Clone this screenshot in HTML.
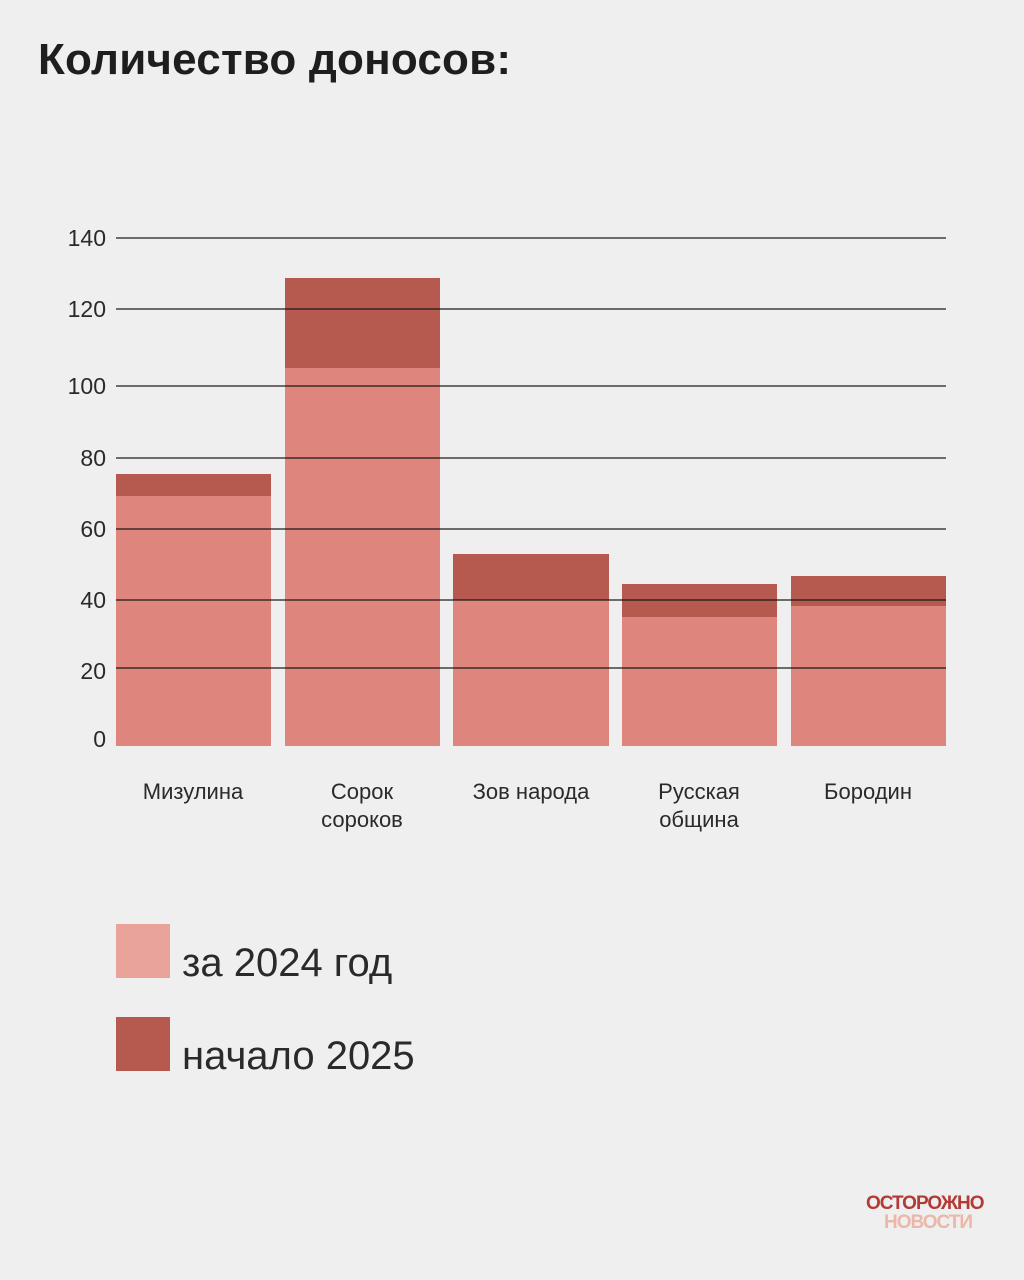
<!DOCTYPE html>
<html><head><meta charset="utf-8"><style>
body{margin:0;width:1024px;height:1280px;background:#efefef;position:relative;overflow:hidden;font-family:"Liberation Sans","DejaVu Sans",sans-serif;color:#2a2a2a}
.t{position:absolute;left:38px;top:35px;font-size:44px;font-weight:bold;color:#1e1e1e;letter-spacing:0.2px}
.b{position:absolute}
.l{background:#de867d}.d{background:#b65a50}
.g{position:absolute;left:116px;width:830px;height:2px;background:rgba(20,20,20,0.6)}
.y{position:absolute;right:918px;font-size:23px;line-height:22px;color:#2a2a2a}
.x{position:absolute;width:170px;text-align:center;font-size:22px;line-height:28px;top:778px}
.lg{position:absolute;left:116px;width:54px;height:54px}
.lt{position:absolute;left:182px;font-size:40px;color:#2a2a2a}
</style></head><body>
<div class="t">Количество доносов:</div>

<div class="b d" style="left:116px;top:474px;width:155px;height:22px"></div>
<div class="b l" style="left:116px;top:496px;width:155px;height:250px"></div>
<div class="b d" style="left:285px;top:278px;width:155px;height:90px"></div>
<div class="b l" style="left:285px;top:368px;width:155px;height:378px"></div>
<div class="b d" style="left:453px;top:554px;width:156px;height:46px"></div>
<div class="b l" style="left:453px;top:600px;width:156px;height:146px"></div>
<div class="b d" style="left:622px;top:584px;width:155px;height:33px"></div>
<div class="b l" style="left:622px;top:617px;width:155px;height:129px"></div>
<div class="b d" style="left:791px;top:576px;width:155px;height:30px"></div>
<div class="b l" style="left:791px;top:606px;width:155px;height:140px"></div>

<div class="g" style="top:237px"></div>
<div class="g" style="top:308px"></div>
<div class="g" style="top:385px"></div>
<div class="g" style="top:457px"></div>
<div class="g" style="top:528px"></div>
<div class="g" style="top:599px"></div>
<div class="g" style="top:667px"></div>

<div class="y" style="top:227px">140</div>
<div class="y" style="top:298px">120</div>
<div class="y" style="top:375px">100</div>
<div class="y" style="top:447px">80</div>
<div class="y" style="top:518px">60</div>
<div class="y" style="top:589px">40</div>
<div class="y" style="top:660px">20</div>
<div class="y" style="top:728px">0</div>

<div class="x" style="left:108px">Мизулина</div>
<div class="x" style="left:277px">Сорок<br>сороков</div>
<div class="x" style="left:446px">Зов народа</div>
<div class="x" style="left:614px">Русская<br>община</div>
<div class="x" style="left:783px">Бородин</div>

<div class="lg" style="top:924px;background:#e9a39b"></div>
<div class="lt" style="top:941px">за 2024 год</div>
<div class="lg" style="top:1017px;background:#b65a50"></div>
<div class="lt" style="top:1034px">начало 2025</div>

<div style="position:absolute;left:866px;top:1195px;font-size:19px;font-weight:bold;color:#b33a35;letter-spacing:-1px;line-height:18px">ОСТОРОЖНО</div>
<div style="position:absolute;left:884px;top:1214px;font-size:19px;font-weight:bold;color:#eab8a8;letter-spacing:-1px;line-height:18px">НОВОСТИ</div>
</body></html>
